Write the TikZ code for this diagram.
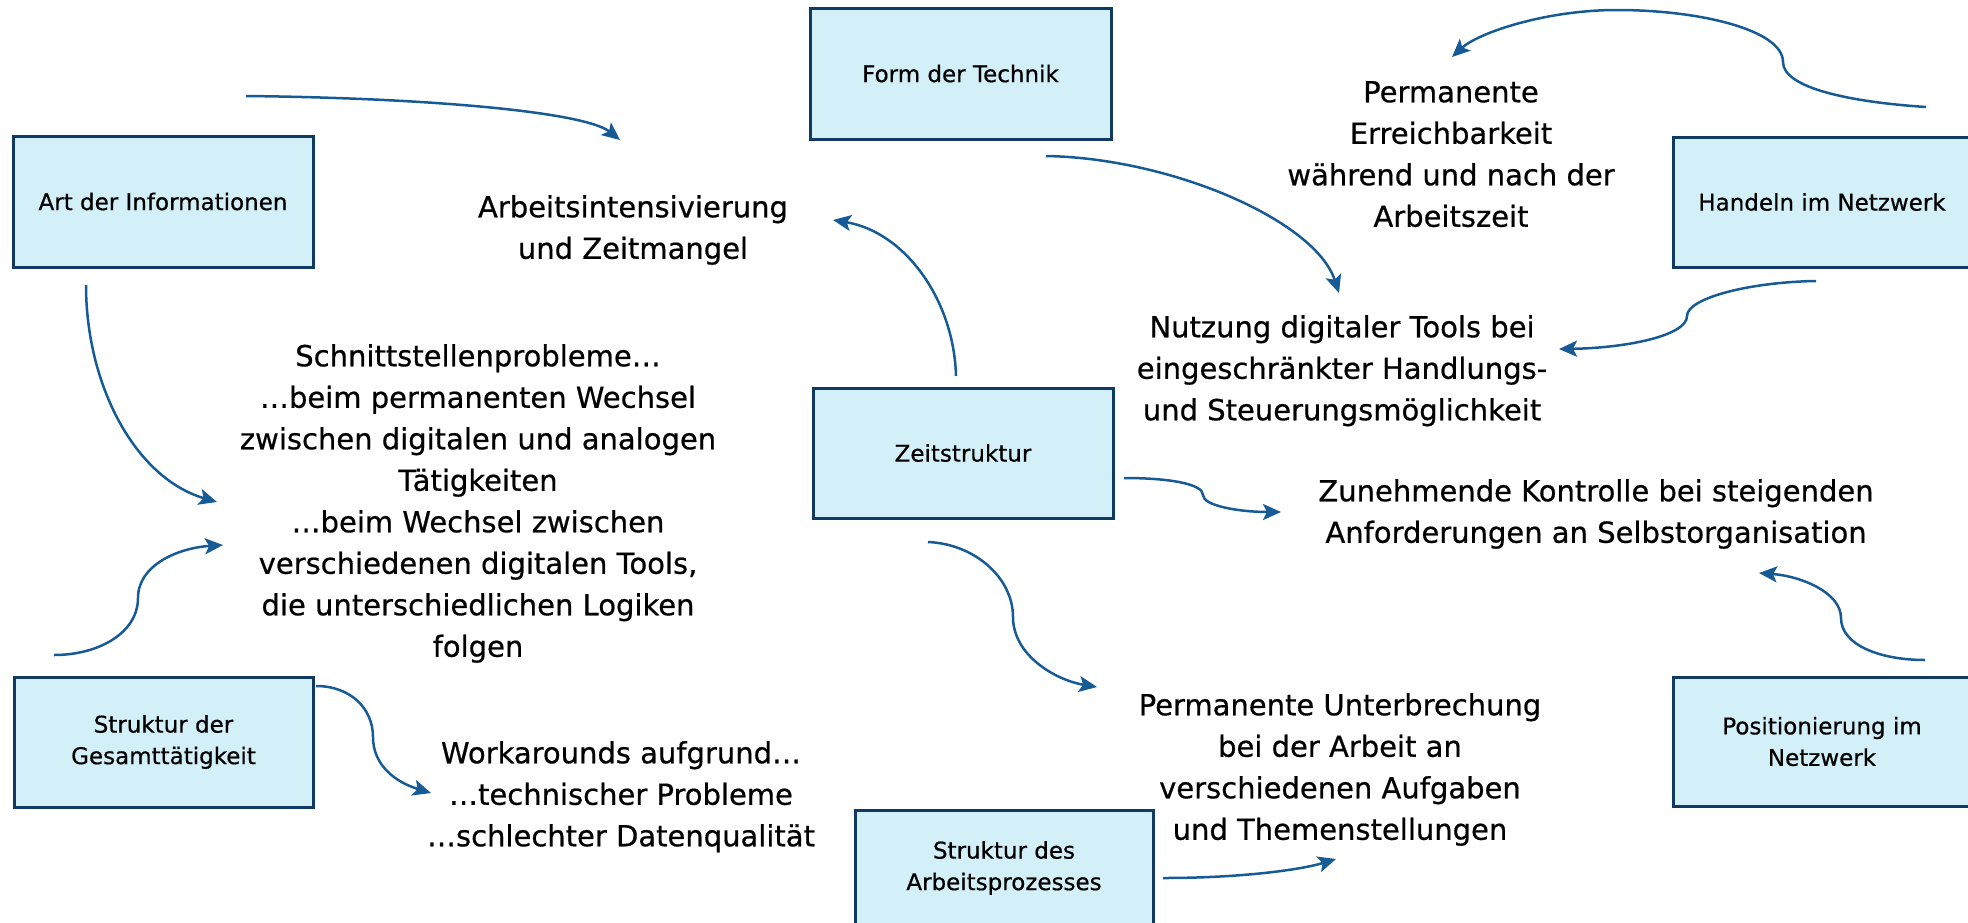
\documentclass[tikz,border=0pt]{standalone}
\usepackage{fontspec}
\setmainfont{DejaVu Sans}[FakeBold=0.6]
\usetikzlibrary{arrows.meta}
\definecolor{boxfill}{RGB}{211,240,248}
\definecolor{boxline}{RGB}{16,58,98}
\definecolor{arrowblue}{RGB}{22,90,150}
\begin{document}
\begin{tikzpicture}[x=1pt,y=-1pt,
  factor/.style={draw=boxline, line width=3pt, fill=boxfill, inner sep=0pt, align=center,
     font=\fontsize{23}{31.5}\selectfont, text=black},
  effect/.style={anchor=north, inner sep=0pt, align=center, font=\fontsize{29}{41.5}\selectfont},
  link/.style={draw=arrowblue, line width=2.5pt, -{Stealth[length=18pt,width=16pt,inset=4pt]}}
]
\useasboundingbox (0,0) rectangle (1968,922);
\clip (0,0) rectangle (1968,922);

% factor boxes
\node[factor, minimum width=300pt, minimum height=131pt] (info) at (163,201.5) {Art der Informationen};
\node[factor, minimum width=301pt, minimum height=131pt] (form) at (960.5,73.5) {Form der Technik};
\node[factor, minimum width=298pt, minimum height=130pt] (handeln) at (1822,202) {Handeln im Netzwerk};
\node[factor, minimum width=300pt, minimum height=130pt] (zeit) at (963,453) {Zeitstruktur};
\node[factor, minimum width=299pt, minimum height=130pt] (gesamt) at (163.5,742) {Struktur der\\Gesamttätigkeit};
\node[factor, minimum width=298pt, minimum height=116pt] (prozess) at (1004,868) {Struktur des\\Arbeitsprozesses};
\node[factor, minimum width=298pt, minimum height=129pt] (position) at (1822,741.5) {Positionierung im\\Netzwerk};

% effect texts
\node[effect] (intens) at (633,188) {\strut Arbeitsintensivierung\\und Zeitmangel};
\node[effect] (erreich) at (1451,73) {\strut Permanente\\Erreichbarkeit\\während und nach der\\Arbeitszeit};
\node[effect] (nutzung) at (1342,308) {\strut Nutzung digitaler Tools bei\\eingeschränkter Handlungs-\\und Steuerungsmöglichkeit};
\node[effect] (schnitt) at (478,337) {\strut Schnittstellenprobleme…\\…beim permanenten Wechsel\\zwischen digitalen und analogen\\Tätigkeiten\\…beim Wechsel zwischen\\verschiedenen digitalen Tools,\\die unterschiedlichen Logiken\\folgen};
\node[effect] (kontrolle) at (1596,472) {\strut Zunehmende Kontrolle bei steigenden\\Anforderungen an Selbstorganisation};
\node[effect] (unterbr) at (1340,686) {\strut Permanente Unterbrechung\\bei der Arbeit an\\verschiedenen Aufgaben\\und Themenstellungen};
\node[effect] (workar) at (621,734) {\strut Workarounds aufgrund…\\…technischer Probleme\\…schlechter Datenqualität};

% connector end points
\coordinate (a1s) at (246,96);   \coordinate (a1e) at (620,140);
\coordinate (a2s) at (86,285);   \coordinate (a2e) at (217,502);
\coordinate (a3s) at (54,655);   \coordinate (a3e) at (223,545);
\coordinate (a4s) at (316,686);  \coordinate (a4e) at (431,793);
\coordinate (a5s) at (956,376);  \coordinate (a5e) at (833,220);
\coordinate (a6s) at (1046,156); \coordinate (a6e) at (1339,293);
\coordinate (a7s) at (1926,107); \coordinate (a7e) at (1452,57);
\coordinate (a8s) at (1816,281); \coordinate (a8e) at (1559,349);
\coordinate (a9s) at (1124,478); \coordinate (a9e) at (1281,512);
\coordinate (a10s) at (928,542); \coordinate (a10e) at (1097,687);
\coordinate (a11s) at (1925,660); \coordinate (a11e) at (1759,573);
\coordinate (a12s) at (1163,878); \coordinate (a12e) at (1336,859);

% connectors
\draw[link] (a1s) .. controls (430,98) and (585,112) .. (a1e);
\draw[link] (a2s) .. controls (86,385) and (135,478) .. (a2e);
\draw[link] (a3s) .. controls (100,655) and (138,632) .. (138,598) .. controls (138,565) and (178,548) .. (a3e);
\draw[link] (a4s) .. controls (350,686) and (373,708) .. (373,737) .. controls (373,765) and (395,782) .. (a4e);
\draw[link] (a5s) .. controls (954,300) and (905,232) .. (a5e);
\draw[link] (a6s) .. controls (1170,158) and (1315,220) .. (a6e);
\draw[link] (a7s) .. controls (1850,102) and (1783,88) .. (1783,62) .. controls (1783,30) and (1700,10) .. (1617,10) .. controls (1545,10) and (1478,33) .. (a7e);
\draw[link] (a8s) .. controls (1750,282) and (1687,298) .. (1687,316) .. controls (1687,336) and (1625,348) .. (a8e);
\draw[link] (a9s) .. controls (1170,478) and (1203,484) .. (1203,495) .. controls (1203,506) and (1240,512) .. (a9e);
\draw[link] (a10s) .. controls (975,544) and (1013,578) .. (1013,617) .. controls (1013,655) and (1055,680) .. (a10e);
\draw[link] (a11s) .. controls (1880,660) and (1841,645) .. (1841,618) .. controls (1841,592) and (1800,576) .. (a11e);
\draw[link] (a12s) .. controls (1240,878) and (1300,870) .. (a12e);
\end{tikzpicture}
\end{document}
